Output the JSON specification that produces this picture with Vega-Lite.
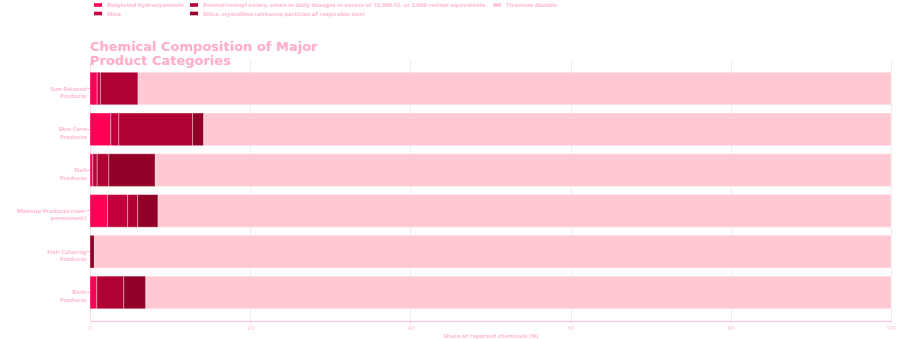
{
  "$schema": "https://vega.github.io/schema/vega-lite/v6.json",
  "width": 801,
  "height": 261,
  "autosize": {"type": "none"},
  "padding": {"left": 90, "top": 60, "right": 9, "bottom": 18},
  "background": "white",
  "config": {"view": {"stroke": null}},
  "title": {
    "text": ["Chemical Composition of Major", "Product Categories"],
    "anchor": "start",
    "frame": "group",
    "font": "DejaVu Sans",
    "fontSize": 13,
    "fontWeight": "bold",
    "color": "#ffadcb",
    "lineHeight": 14,
    "offset": -6,
    "dy": 60.5
  },
  "data": {
    "values": [
      {"category": "Sun-Related Products", "chemical": "Butylated hydroxyanisole", "share": 0.9},
      {"category": "Sun-Related Products", "chemical": "Mica", "share": 0.4},
      {"category": "Sun-Related Products", "chemical": "Retinol/retinyl esters, when in daily dosages in excess of 10,000 IU, or 3,000 retinol equivalents.", "share": 4.7},
      {"category": "Sun-Related Products", "chemical": "Titanium dioxide", "share": 94.0},
      {"category": "Skin Care Products", "chemical": "Butylated hydroxyanisole", "share": 2.6},
      {"category": "Skin Care Products", "chemical": "Mica", "share": 1.0},
      {"category": "Skin Care Products", "chemical": "Retinol/retinyl esters, when in daily dosages in excess of 10,000 IU, or 3,000 retinol equivalents.", "share": 9.2},
      {"category": "Skin Care Products", "chemical": "Silica, crystalline (airborne particles of respirable size)", "share": 1.4},
      {"category": "Skin Care Products", "chemical": "Titanium dioxide", "share": 85.8},
      {"category": "Nail Products", "chemical": "Butylated hydroxyanisole", "share": 0.35},
      {"category": "Nail Products", "chemical": "Mica", "share": 0.55},
      {"category": "Nail Products", "chemical": "Retinol/retinyl esters, when in daily dosages in excess of 10,000 IU, or 3,000 retinol equivalents.", "share": 1.45},
      {"category": "Nail Products", "chemical": "Silica, crystalline (airborne particles of respirable size)", "share": 5.8},
      {"category": "Nail Products", "chemical": "Titanium dioxide", "share": 91.85},
      {"category": "Makeup Products (non-permanent)", "chemical": "Butylated hydroxyanisole", "share": 2.2},
      {"category": "Makeup Products (non-permanent)", "chemical": "Mica", "share": 2.5},
      {"category": "Makeup Products (non-permanent)", "chemical": "Retinol/retinyl esters, when in daily dosages in excess of 10,000 IU, or 3,000 retinol equivalents.", "share": 1.25},
      {"category": "Makeup Products (non-permanent)", "chemical": "Silica, crystalline (airborne particles of respirable size)", "share": 2.55},
      {"category": "Makeup Products (non-permanent)", "chemical": "Titanium dioxide", "share": 91.5},
      {"category": "Hair Coloring Products", "chemical": "Silica, crystalline (airborne particles of respirable size)", "share": 0.55},
      {"category": "Hair Coloring Products", "chemical": "Titanium dioxide", "share": 99.45},
      {"category": "Bath Products", "chemical": "Butylated hydroxyanisole", "share": 0.85},
      {"category": "Bath Products", "chemical": "Retinol/retinyl esters, when in daily dosages in excess of 10,000 IU, or 3,000 retinol equivalents.", "share": 3.37},
      {"category": "Bath Products", "chemical": "Silica, crystalline (airborne particles of respirable size)", "share": 2.75},
      {"category": "Bath Products", "chemical": "Titanium dioxide", "share": 93.03}
    ]
  },
  "mark": {"type": "bar", "stroke": "white", "strokeWidth": 0.6, "strokeOpacity": 0.6},
  "encoding": {
    "y": {
      "field": "category",
      "type": "nominal",
      "sort": ["Sun-Related Products", "Skin Care Products", "Nail Products", "Makeup Products (non-permanent)", "Hair Coloring Products", "Bath Products"],
      "scale": {"paddingInner": 0.2, "paddingOuter": 0.3},
      "axis": {
        "title": null,
        "labelExpr": "indexof(datum.label, '(non-') >= 0 ? [substring(datum.label, 0, indexof(datum.label, '(non-') + 5), substring(datum.label, indexof(datum.label, '(non-') + 5)] : [substring(datum.label, 0, lastindexof(datum.label, ' ')), substring(datum.label, lastindexof(datum.label, ' ') + 1)]",
        "labelFont": "Open Sans",
        "labelFontSize": 6,
        "labelFontWeight": "bold",
        "labelColor": "#ffb8d4",
        "labelLineHeight": 7.5,
        "labelPadding": 0,
        "tickColor": "#ffc0d5",
        "tickSize": 4,
        "domainColor": "#ffdbe6",
        "grid": false
      }
    },
    "x": {
      "field": "share",
      "type": "quantitative",
      "stack": "zero",
      "scale": {"domain": [0, 100], "nice": false},
      "axis": {
        "values": [0, 20, 40, 60, 80, 100],
        "title": "Share of reported chemicals (%)",
        "titleFont": "Open Sans",
        "titleFontSize": 6,
        "titleFontWeight": "bold",
        "titleColor": "#ffb8d4",
        "titlePadding": 2,
        "labelFont": "Open Sans",
        "labelFontSize": 6,
        "labelColor": "#ffb8d4",
        "labelFlush": false,
        "labelPadding": 0,
        "domainColor": "#ffc0d5",
        "tickColor": "#ffdbe6",
        "tickSize": 3,
        "grid": true,
        "gridColor": "#f6e9ed"
      }
    },
    "color": {
      "field": "chemical",
      "type": "nominal",
      "scale": {
        "domain": ["Butylated hydroxyanisole", "Mica", "Retinol/retinyl esters, when in daily dosages in excess of 10,000 IU, or 3,000 retinol equivalents.", "Silica, crystalline (airborne particles of respirable size)", "Titanium dioxide"],
        "range": ["#ff0055", "#c0003a", "#b10032", "#920028", "#ffc9d3"]
      },
      "legend": {
        "title": null,
        "orient": "none",
        "legendX": 4,
        "legendY": -59,
        "direction": "horizontal",
        "columns": 3,
        "gridAlign": "each",
        "values": ["Butylated hydroxyanisole", "Retinol/retinyl esters, when in daily dosages in excess of 10,000 IU, or 3,000 retinol equivalents.", "Titanium dioxide", "Mica", "Silica, crystalline (airborne particles of respirable size)"],
        "symbolType": "M-1,-0.45L1,-0.45L1,0.45L-1,0.45Z",
        "symbolSize": 64,
        "symbolStrokeWidth": 0,
        "labelFont": "Open Sans",
        "labelFontSize": 6,
        "labelFontWeight": "bold",
        "labelColor": "#ffb8d4",
        "labelLimit": 500,
        "labelOffset": 5,
        "rowPadding": 1.5,
        "columnPadding": 6,
        "padding": 0
      }
    }
  }
}
